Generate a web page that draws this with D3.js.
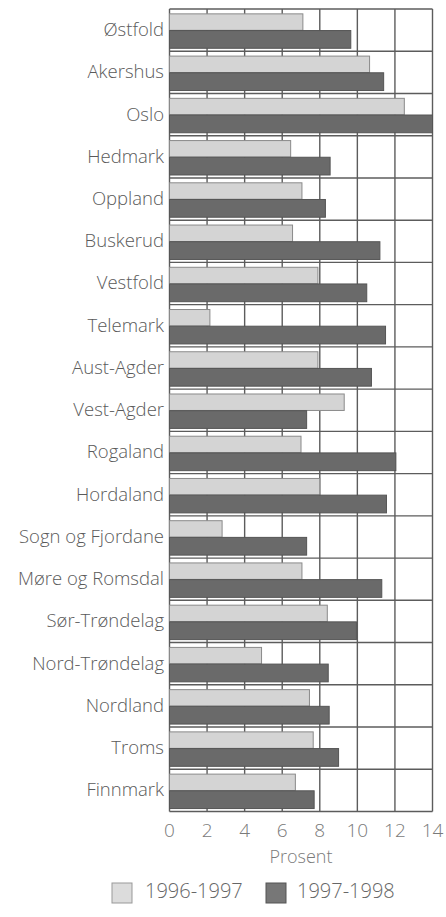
<!DOCTYPE html>
<html><head><meta charset="utf-8">
<script src="https://cdn.jsdelivr.net/npm/d3@7"></script>
<style>
html,body{margin:0;padding:0;background:#fff;}
svg{display:block;}
text{font-family:"Open Sans","Noto Sans",sans-serif;font-weight:300;}
</style></head>
<body>
<svg id="c" width="446" height="917"></svg>
<script>
const categories = ["Østfold","Akershus","Oslo","Hedmark","Oppland","Buskerud","Vestfold","Telemark","Aust-Agder","Vest-Agder","Rogaland","Hordaland","Sogn og Fjordane","Møre og Romsdal","Sør-Trøndelag","Nord-Trøndelag","Nordland","Troms","Finnmark"];
const series1996 = [7.1,10.65,12.5,6.45,7.05,6.55,7.9,2.15,7.9,9.3,7.0,8.0,2.8,7.05,8.4,4.9,7.45,7.65,6.7];
const series1997 = [9.65,11.4,14.0,8.55,8.3,11.2,10.5,11.5,10.75,7.3,12.05,11.55,7.3,11.3,9.95,8.45,8.5,9.0,7.7];
const seriesNames = ["1996-1997","1997-1998"];
const xTicks = [0,2,4,6,8,10,12,14];
const xTitle = "Prosent";

const svg = d3.select("#c");
const mLeft = 169.5, mRight = 432.5, mTop = 9, mBottom = 811.5;
const x = d3.scaleLinear().domain([0,14]).range([mLeft,mRight]);
const y = d3.scaleBand().domain(categories).range([mTop,mBottom]).padding(0);
const bw = y.bandwidth();

const grid = "#5c5c5c";
// vertical grid lines
svg.append("g").selectAll("line").data(xTicks).join("line")
  .attr("x1",d=>x(d)).attr("x2",d=>x(d)).attr("y1",mTop).attr("y2",mBottom)
  .attr("stroke",grid).attr("stroke-width",1.4);
// horizontal band boundaries
const bounds = categories.map(c=>y(c)).concat([mBottom]);
svg.append("g").selectAll("line").data(bounds).join("line")
  .attr("x1",mLeft).attr("x2",mRight).attr("y1",d=>d).attr("y2",d=>d)
  .attr("stroke",grid).attr("stroke-width",1.4);

// bars
const data = categories.map((c,i)=>({c,a:series1996[i],b:series1997[i]}));
svg.append("g").selectAll("rect").data(data).join("rect")
  .attr("x",x(0)).attr("y",d=>y(d.c)+bw*0.115).attr("width",d=>x(d.a)-x(0)).attr("height",bw*0.39)
  .attr("fill","#d4d4d4").attr("stroke","#8a8a8a").attr("stroke-width",1);
svg.append("g").selectAll("rect").data(data).join("rect")
  .attr("x",x(0)).attr("y",d=>y(d.c)+bw*0.51).attr("width",d=>x(d.b)-x(0)).attr("height",bw*0.42)
  .attr("fill","#6a6a6a").attr("stroke","#555").attr("stroke-width",1);

// category labels
svg.append("g").selectAll("text").data(categories).join("text")
  .attr("x",164).attr("y",d=>y(d)+bw*0.5+1)
  .attr("text-anchor","end").attr("dominant-baseline","middle")
  .attr("font-size",18.5).attr("fill","#5a5a5a").text(d=>d);

// x axis tick labels
svg.append("g").selectAll("text").data(xTicks).join("text")
  .attr("x",d=>x(d)).attr("y",832).attr("text-anchor","middle").attr("dominant-baseline","middle")
  .attr("font-size",19).attr("fill","#7a7a7a").text(d=>d);
svg.append("text").attr("x",(mLeft+mRight)/2).attr("y",858).attr("text-anchor","middle")
  .attr("dominant-baseline","middle").attr("font-size",18).attr("fill","#7a7a7a").text(xTitle);

// legend
const leg = [{n:seriesNames[0],sx:112,tx:145,fill:"#dcdcdc",st:"#999"},{n:seriesNames[1],sx:266,tx:297,fill:"#777",st:"#555"}];
const lg = svg.append("g");
lg.selectAll("rect").data(leg).join("rect")
  .attr("x",d=>d.sx).attr("y",883).attr("width",20).attr("height",20)
  .attr("fill",d=>d.fill).attr("stroke",d=>d.st).attr("stroke-width",1);
lg.selectAll("text").data(leg).join("text")
  .attr("x",d=>d.tx).attr("y",893).attr("dominant-baseline","middle")
  .attr("font-size",20).attr("fill","#666").text(d=>d.n);
</script>
</body></html>
